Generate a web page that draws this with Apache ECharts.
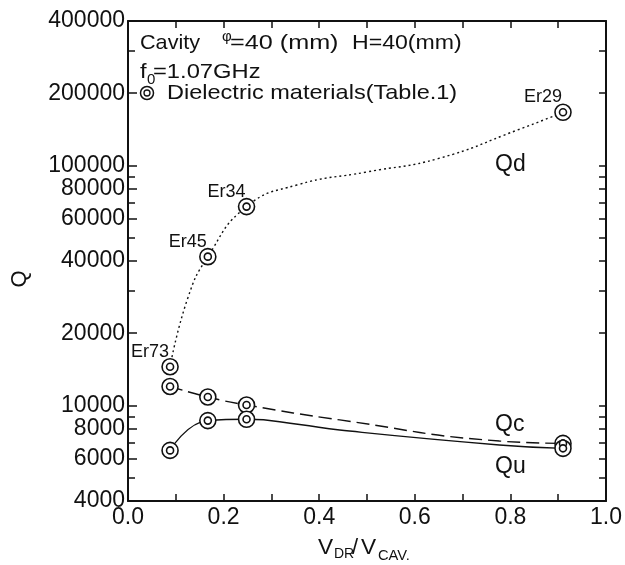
<!DOCTYPE html>
<html><head><meta charset="utf-8">
<script src="https://cdn.jsdelivr.net/npm/echarts@6/dist/echarts.min.js"></script>
<style>html,body{margin:0;padding:0;background:#fff}#c{width:625px;height:565px}</style>
</head><body><div id="c"></div>
<script>
const xValues = [0.088, 0.167, 0.248, 0.91];
const qd = [14500, 41700, 67400, 166600];
const qc = [12000, 10850, 10050, 6950];
const qu = [6500, 8650, 8760, 6630];
const qdLabels = ['Er73', 'Er45', 'Er34', 'Er29'];

// ---- fitted curves, traced along the drawn lines of the reference ----
const qdCurveX = [0.088, 0.125, 0.167, 0.248, 0.353, 0.500, 0.650, 0.815, 0.910];
const qdCurveY = [14500, 28000, 41700, 67400, 82900, 94000, 107000, 140600, 166600];
const qcCurveX = [0.088, 0.167, 0.248, 0.443, 0.777, 0.910];
const qcCurveY = [12000, 10850, 10050, 8710, 7110, 6950];
const quCurveX = [0.088, 0.167, 0.248, 0.359, 0.443, 0.777, 0.910];
const quCurveY = [6500, 8650, 8760, 8330, 7900, 6850, 6630];

// ---- tick values ----
const xLabelValues = [0, 0.2, 0.4, 0.6, 0.8, 1.0];
const xTickValues = [0.1, 0.2, 0.3, 0.4, 0.5, 0.6, 0.7, 0.8, 0.9];
const yLabelValues = [4000, 6000, 8000, 10000, 20000, 40000, 60000, 80000, 100000, 200000, 400000];
const yMinorValues = [5000, 7000, 9000, 30000, 50000, 70000, 90000, 300000];

const FONT = 'Liberation Sans, Arial, Helvetica, sans-serif';
const lineCol = '#111';
const zip = (xs, ys) => xs.map((x, i) => [x, ys[i]]);

const chart = echarts.init(document.getElementById('c'), null, {renderer: 'canvas'});

function lineSeries(xs, ys, type) {
  return {
    type: 'line', data: zip(xs, ys), smooth: 0.5, symbol: 'none', silent: true,
    lineStyle: {color: lineCol, width: 1.4, type: type}, z: 2
  };
}
function markerSeries(arr, size, withLabels) {
  const s = {
    type: 'scatter', data: zip(xValues, arr), symbol: 'circle', symbolSize: size, silent: true,
    itemStyle: {color: '#fff', borderColor: lineCol, borderWidth: 1.6, opacity: 1},
    z: size > 10 ? 3 : 4
  };
  if (withLabels) {
    s.label = {
      show: true, position: 'inside', offset: [-20, -15],
      formatter: p => qdLabels[p.dataIndex],
      fontFamily: FONT, fontSize: 18, color: '#111'
    };
  }
  return s;
}
function txt(x, y, text, size, sx) {
  return {type: 'text', x: x, y: y, scaleX: sx || 1,
    style: {text: text, font: size + 'px ' + FONT, fill: '#111', align: 'left', verticalAlign: 'middle'}};
}

const allY = yLabelValues.concat(yMinorValues);
const SX = 1.13;

const option = {
  animation: false,
  backgroundColor: '#fff',
  grid: {left: 128, top: 21, right: 18, bottom: 64, containLabel: false},
  xAxis: [
    {
      type: 'value', min: 0, max: 1, position: 'bottom',
      axisLine: {show: true, onZero: false, lineStyle: {color: lineCol, width: 2}},
      axisTick: {show: true, inside: true, length: 7, customValues: xTickValues, lineStyle: {color: lineCol, width: 1.5}},
      axisLabel: {show: true, customValues: xLabelValues, formatter: v => v.toFixed(1), margin: 5,
        fontFamily: FONT, fontSize: 23, color: '#111'},
      splitLine: {show: false}
    },
    {
      type: 'value', min: 0, max: 1, position: 'top',
      axisLine: {show: true, onZero: false, lineStyle: {color: lineCol, width: 2}},
      axisTick: {show: true, inside: true, length: 7, customValues: xTickValues, lineStyle: {color: lineCol, width: 1.5}},
      axisLabel: {show: false},
      splitLine: {show: false}
    }
  ],
  yAxis: [
    {
      type: 'log', logBase: 10, min: 4000, max: 400000, position: 'left',
      axisLine: {show: true, onZero: false, lineStyle: {color: lineCol, width: 2}},
      axisTick: {show: true, inside: true, length: 9, customValues: yLabelValues, lineStyle: {color: lineCol, width: 1.5}},
      axisLabel: {show: true, customValues: yLabelValues, formatter: v => String(Math.round(v)), margin: 3,
        fontFamily: FONT, fontSize: 23, color: '#111'},
      splitLine: {show: false}
    },
    {
      type: 'log', logBase: 10, min: 4000, max: 400000, position: 'left',
      axisLine: {show: false},
      axisTick: {show: true, inside: true, length: 7, customValues: yMinorValues, lineStyle: {color: lineCol, width: 1.5}},
      axisLabel: {show: false},
      splitLine: {show: false}
    },
    {
      type: 'log', logBase: 10, min: 4000, max: 400000, position: 'right',
      axisLine: {show: true, onZero: false, lineStyle: {color: lineCol, width: 2}},
      axisTick: {show: true, inside: true, length: 7, customValues: allY, lineStyle: {color: lineCol, width: 1.5}},
      axisLabel: {show: false},
      splitLine: {show: false}
    }
  ],
  series: [
    lineSeries(qdCurveX, qdCurveY, [2, 3]),
    lineSeries(qcCurveX, qcCurveY, [13, 6]),
    lineSeries(quCurveX, quCurveY, 'solid'),
    markerSeries(qd, 16, true), markerSeries(qd, 7, false),
    markerSeries(qc, 16, false), markerSeries(qc, 7, false),
    markerSeries(qu, 16, false), markerSeries(qu, 7, false)
  ],
  graphic: [
    txt(140, 43, 'Cavity', 21, 1.03),
    txt(222, 37, '\u03c6', 15, 1),
    txt(230, 43, '=40 (mm)', 21, 1.2),
    txt(352, 43, 'H=40(mm)', 21, 1.1),
    txt(140, 72, 'f', 21, SX),
    txt(147, 80, '0', 15, 1),
    txt(153, 72, '=1.07GHz', 21, SX),
    {type: 'circle', shape: {cx: 147, cy: 93, r: 6.5}, style: {fill: '#fff', stroke: lineCol, lineWidth: 1.5}},
    {type: 'circle', shape: {cx: 147, cy: 93, r: 3}, style: {fill: '#fff', stroke: lineCol, lineWidth: 1.3}},
    txt(167, 93, 'Dielectric materials(Table.1)', 21, 1.12),
    txt(495, 165, 'Qd', 23, 1),
    txt(495, 425, 'Qc', 23, 1),
    txt(495, 467, 'Qu', 23, 1),
    {type: 'text', x: 20, y: 279, rotation: Math.PI / 2,
      style: {text: 'Q', font: '22px ' + FONT, fill: '#111', align: 'center', verticalAlign: 'middle'}},
    txt(318, 548, 'V', 22, 1.03),
    txt(334, 554, 'DR', 14, 1),
    txt(352, 548, '/', 22, 1),
    txt(361, 548, 'V', 22, 1.03),
    txt(378, 556, 'CAV.', 14, 1.05)
  ]
};
chart.setOption(option);
</script>
</body></html>
